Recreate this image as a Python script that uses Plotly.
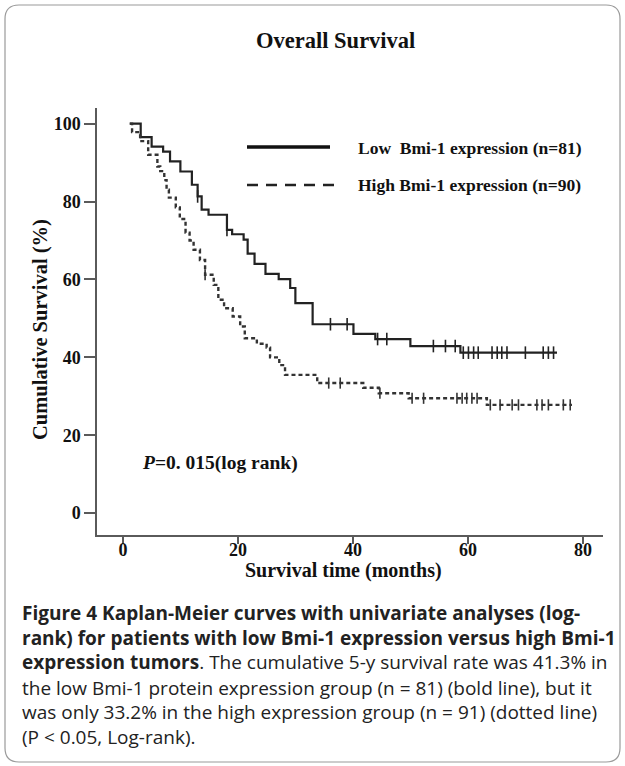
import plotly.graph_objects as go
import numpy as np

# ---------------- data ----------------
low_time = [1.2, 3.1, 5.0, 7.0, 8.2, 10.0, 12.0, 13.0, 13.7, 14.9, 18.1, 19.0, 21.0, 21.7,
            22.9, 24.8, 27.1, 29.1, 30.0, 33.0, 40.1, 43.9, 50.0, 58.7, 75.5]
low_surv = [100, 96.5, 94.1, 92.8, 90.3, 87.7, 84.3, 81.3, 77.9, 76.6, 72.7, 71.6, 70.2, 66.6,
            64.0, 61.4, 60.1, 57.8, 53.9, 48.5, 46.0, 44.7, 42.9, 41.2, 41.2]
low_censor = [13.0, 18.1, 36.1, 39.0, 44.3, 45.9, 54.0, 56.1, 57.8, 59.2, 60.1, 61.0, 61.8,
              64.2, 65.1, 65.9, 66.8, 70.0, 73.1, 74.0, 74.9]

high_time = [1.2, 1.6, 3.0, 4.4, 6.0, 6.5, 7.2, 7.6, 8.0, 9.2, 9.9, 10.9, 11.6, 12.3, 13.4,
             14.3, 15.8, 16.6, 17.6, 19.1, 20.4, 21.2, 23.3, 25.0, 25.6, 27.2, 28.2, 33.8,
             41.8, 44.5, 49.7, 63.3, 78.1]
high_surv = [100, 97.8, 95.5, 92.0, 89.0, 87.8, 85.5, 83.0, 81.0, 78.5, 75.5, 72.0, 70.0, 67.6,
             65.0, 61.2, 58.6, 54.8, 52.6, 50.5, 47.9, 44.9, 43.5, 42.5, 40.0, 38.0, 35.5, 33.4,
             32.2, 30.8, 29.5, 27.8, 27.8]
high_censor = [14.3, 35.8, 37.8, 44.7, 50.3, 52.3, 58.1, 59.0, 59.8, 60.7, 61.6, 63.9, 65.6,
               67.7, 68.8, 72.0, 72.9, 74.0, 76.6, 77.8]

x_ticks = [0, 20, 40, 60, 80]
y_ticks = [0, 20, 40, 60, 80, 100]

title_text = "Overall Survival"
low_label = "Low  Bmi-1 expression (n=81)"
high_label = "High Bmi-1 expression (n=90)"
p_text = "<i>P</i>=0. 015(log rank)"
x_title = "Survival time (months)"
y_title = "Cumulative Survival (%)"
caption_lines = [
    "<b>Figure 4 Kaplan-Meier curves with univariate analyses (log-</b>",
    "<b>rank) for patients with low Bmi-1 expression versus high Bmi-1</b>",
    "<b>expression tumors</b>. The cumulative 5-y survival rate was 41.3% in",
    "the low Bmi-1 protein expression group (n = 81) (bold line), but it",
    "was only 33.2% in the high expression group (n = 91) (dotted line)",
    "(P &lt; 0.05, Log-rank).",
]


def step_at(times, surv, t):
    idx = np.searchsorted(np.array(times), t, side="right") - 1
    return surv[max(idx, 0)]


# ---------------- layout geometry ----------------
W, H = 625, 766
ML, MR, MT, MB = 97, 22, 108, 231
PW, PH = W - ML - MR, H - MT - MB


def px(xp):
    return (xp - ML) / PW


def py(yp):
    return (H - MB - yp) / PH


SERIF = "Liberation Serif"
SANS = "Open Sans"
AX = "#5a5a5a"

fig = go.Figure()

fig.add_trace(go.Scatter(x=low_time, y=low_surv, mode="lines", line_shape="hv",
                         line=dict(color="#222222", width=2.2), showlegend=False,
                         hoverinfo="skip"))
fig.add_trace(go.Scatter(x=low_censor, y=[step_at(low_time, low_surv, t) for t in low_censor],
                         mode="markers",
                         marker=dict(symbol="line-ns", size=9,
                                     line=dict(color="#222222", width=1.6)),
                         showlegend=False, hoverinfo="skip"))
fig.add_trace(go.Scatter(x=high_time, y=high_surv, mode="lines", line_shape="hv",
                         line=dict(color="#333333", width=2.4, dash="4px,3px"),
                         showlegend=False, hoverinfo="skip"))
fig.add_trace(go.Scatter(x=high_censor, y=[step_at(high_time, high_surv, t) for t in high_censor],
                         mode="markers",
                         marker=dict(symbol="line-ns", size=8,
                                     line=dict(color="#333333", width=1.6)),
                         showlegend=False, hoverinfo="skip"))

shapes = []
# legend lines
shapes.append(dict(type="line", xref="paper", yref="paper", x0=px(247), x1=px(330),
                   y0=py(147), y1=py(147), line=dict(color="#111111", width=3.4)))
shapes.append(dict(type="line", xref="paper", yref="paper", x0=px(247), x1=px(337),
                   y0=py(185), y1=py(185), line=dict(color="#222222", width=2.6,
                                                      dash="11px,8px")))
# outer rounded border
bx0, by0, bx1, by1, r = px(5), py(5), px(620), py(762), 14
rx, ry = r / PW, r / PH
path = (f"M {bx0+rx},{by0} L {bx1-rx},{by0} Q {bx1},{by0} {bx1},{by0-ry} "
        f"L {bx1},{by1+ry} Q {bx1},{by1} {bx1-rx},{by1} L {bx0+rx},{by1} "
        f"Q {bx0},{by1} {bx0},{by1+ry} L {bx0},{by0-ry} Q {bx0},{by0} {bx0+rx},{by0} Z")
shapes.append(dict(type="path", xref="paper", yref="paper", path=path,
                   line=dict(color="#9a9a9a", width=1.2)))

annotations = []
annotations.append(dict(text="<b>" + title_text + "</b>", x=px(335), y=py(40), xref="paper",
                        yref="paper", showarrow=False, xanchor="center", yanchor="middle",
                        font=dict(family=SERIF, size=22.5, color="#111111")))
annotations.append(dict(text="<b>" + low_label + "</b>", x=px(356), y=py(148), xref="paper",
                        yref="paper", showarrow=False, xanchor="left", yanchor="middle",
                        font=dict(family=SERIF, size=17.5, color="#111111")))
annotations.append(dict(text="<b>" + high_label + "</b>", x=px(356), y=py(185), xref="paper",
                        yref="paper", showarrow=False, xanchor="left", yanchor="middle",
                        font=dict(family=SERIF, size=17.5, color="#111111")))
annotations.append(dict(text="<b>" + p_text + "</b>", x=px(140), y=py(463), xref="paper",
                        yref="paper", showarrow=False, xanchor="left", yanchor="middle",
                        font=dict(family=SERIF, size=19.5, color="#111111")))
annotations.append(dict(text="<b>" + x_title + "</b>", x=px(343), y=py(570), xref="paper",
                        yref="paper", showarrow=False, xanchor="center", yanchor="middle",
                        font=dict(family=SERIF, size=20, color="#111111")))
annotations.append(dict(text="<b>" + y_title + "</b>", x=px(40), y=py(330), xref="paper",
                        yref="paper", showarrow=False, xanchor="center", yanchor="middle",
                        textangle=-90, font=dict(family=SERIF, size=20.5, color="#111111")))
line_y = [613, 638, 662, 688, 712, 737]
for txt, yy in zip(caption_lines, line_y):
    annotations.append(dict(text=txt, x=px(20), y=py(yy), xref="paper", yref="paper",
                            showarrow=False, xanchor="left", yanchor="middle",
                            font=dict(family=SANS, size=19, color="#222222")))

fig.update_layout(
    width=W, height=H,
    margin=dict(l=ML, r=MR, t=MT, b=MB),
    paper_bgcolor="white", plot_bgcolor="white",
    shapes=shapes, annotations=annotations,
    xaxis=dict(range=[-4.5, 83.5], tickvals=x_ticks, ticktext=[f"<b>{v}</b>" for v in x_ticks],
               showgrid=False, zeroline=False, showline=True, linecolor=AX, linewidth=1.5,
               ticks="outside", ticklen=7, tickwidth=1.5, tickcolor=AX,
               ticklabelstandoff=-9,
               tickfont=dict(family=SERIF, size=18, color="#111111")),
    yaxis=dict(range=[-5.6, 104], tickvals=y_ticks, ticktext=[f"<b>{v}</b>" for v in y_ticks],
               showgrid=False, zeroline=False, showline=True, linecolor=AX, linewidth=1.5,
               ticks="outside", ticklen=11, tickwidth=1.5, tickcolor=AX,
               tickfont=dict(family=SERIF, size=18, color="#111111")),
)

fig.write_html("out.html", config={"displayModeBar": False},
               post_script="document.body.style.margin='0';document.body.style.overflow='hidden';")
